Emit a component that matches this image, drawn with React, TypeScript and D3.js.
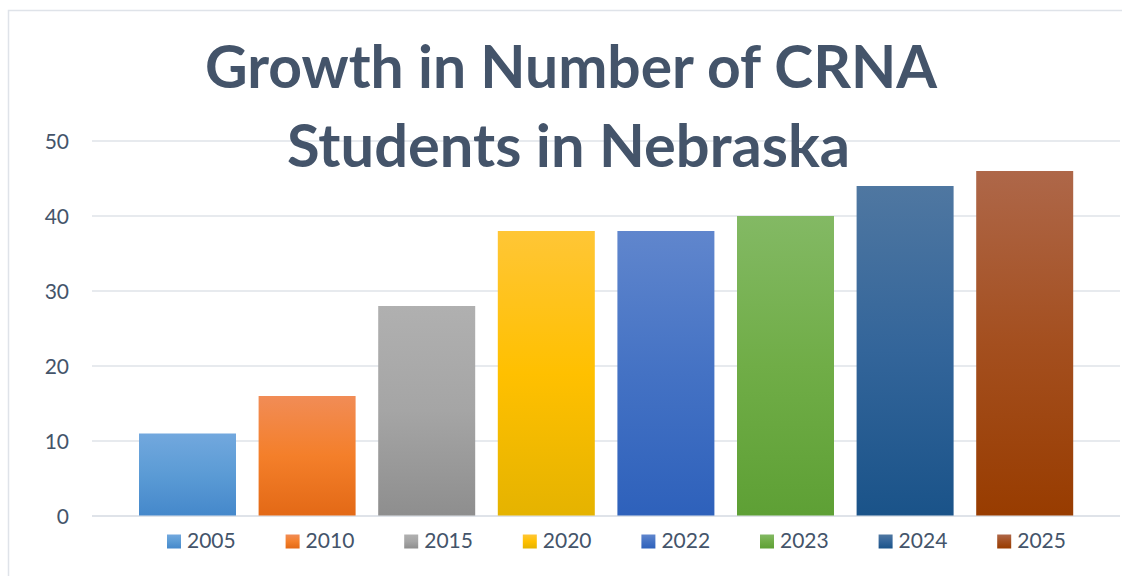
import React from "react";
import * as d3 from "d3";

const years = ["2005", "2010", "2015", "2020", "2022", "2023", "2024", "2025"];
const students = [11, 16, 28, 38, 38, 40, 44, 46];
const yTicks = [0, 10, 20, 30, 40, 50];
const titleLines = ["Growth in Number of CRNA", "Students in Nebraska"];

// gradient palette per bar: [top, middle, bottom]
const palette = [
  ["#72A8DE", "#5B9BD5", "#4588CB"],
  ["#F18C56", "#F47F2A", "#E36916"],
  ["#B0B0B0", "#A5A5A5", "#8E8E8E"],
  ["#FFC636", "#FFC000", "#E5B300"],
  ["#6086CD", "#4472C4", "#2E61BB"],
  ["#83B964", "#70AD47", "#5EA035"],
  ["#4F77A1", "#33659A", "#1A5389"],
  ["#AE6749", "#A44F1F", "#983C00"],
];

const W = 1122;
const H = 576;
const TEXT = "#44546A";
const GRID = "#DFE3E9";

export default function App() {
  const x = d3
    .scaleBand<string>()
    .domain(years)
    .range([127.7, 1084.5])
    .paddingInner(0.189)
    .paddingOuter(0.0945);
  const y = d3.scaleLinear().domain([0, 50]).range([516, 141]);
  const legendX = d3
    .scaleBand<string>()
    .domain(years)
    .range([167 - 0, 167 + 118.6 * 8]);

  return (
    <svg
      width={W}
      height={H}
      style={{ position: "absolute", left: 0, top: 0, background: "#fff" }}
      fontFamily="Lato, 'Open Sans', sans-serif"
    >
      <defs>
        {palette.map((c, i) => (
          <linearGradient key={i} id={`g${i}`} x1="0" y1="0" x2="0" y2="1">
            <stop offset="0" stopColor={c[0]} />
            <stop offset="0.5" stopColor={c[1]} />
            <stop offset="1" stopColor={c[2]} />
          </linearGradient>
        ))}
      </defs>
      <rect x={8.5} y={10.5} width={W + 10} height={H + 10} fill="#fff" stroke={GRID} strokeWidth={1.5} />

      {yTicks.map((t) => (
        <g key={t}>
          <line x1={92} x2={1120} y1={y(t)} y2={y(t)} stroke={GRID} strokeWidth={t === 0 ? 1.8 : 1.4} />
          <text x={69} y={y(t) + 7.5} textAnchor="end" fontSize={21} fill={TEXT}>
            {t}
          </text>
        </g>
      ))}

      {years.map((yr, i) => (
        <rect
          key={yr}
          x={x(yr)}
          y={y(students[i])}
          width={x.bandwidth()}
          height={y(0) - y(students[i]) - 0.5}
          fill={`url(#g${i})`}
        />
      ))}

      <text
        x={571}
        y={88}
        textAnchor="middle"
        fontSize={59}
        fontWeight={700}
        fill={TEXT}
        textLength={732}
        lengthAdjust="spacingAndGlyphs"
      >
        {titleLines[0]}
      </text>
      <text
        x={568.5}
        y={167}
        textAnchor="middle"
        fontSize={59}
        fontWeight={700}
        fill={TEXT}
        textLength={563}
        lengthAdjust="spacingAndGlyphs"
      >
        {titleLines[1]}
      </text>

      {years.map((yr, i) => (
        <g key={yr} transform={`translate(${legendX(yr)},0)`}>
          <rect x={0} y={534.5} width={14} height={14} fill={`url(#g${i})`} />
          <text x={20} y={548} fontSize={21} fill={TEXT}>
            {yr}
          </text>
        </g>
      ))}
    </svg>
  );
}
